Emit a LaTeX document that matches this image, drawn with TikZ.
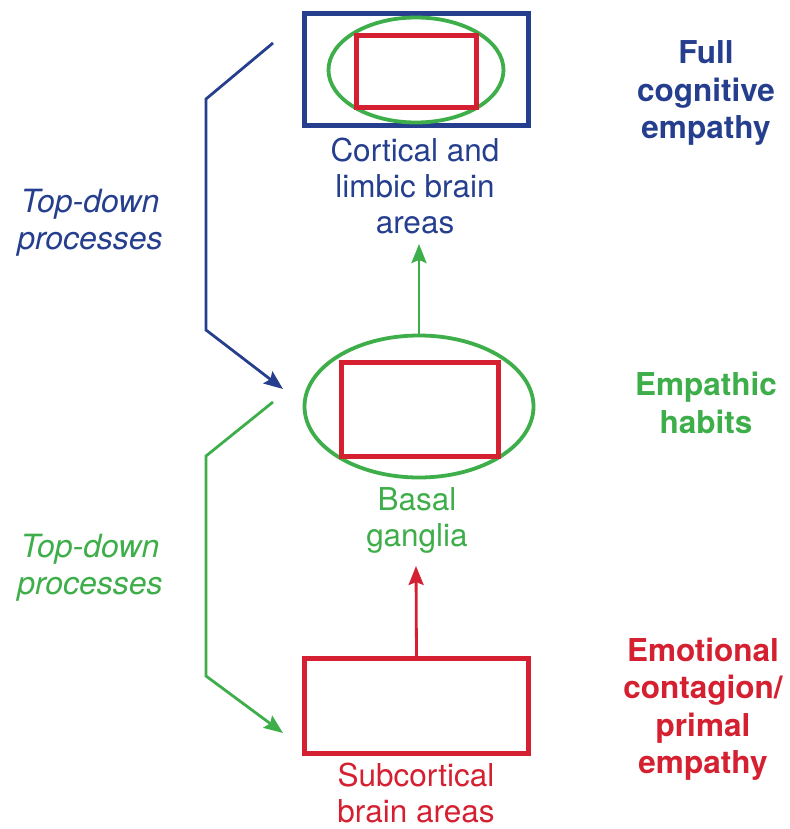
\documentclass[tikz,border=0pt]{standalone}
\usepackage{fontspec}
\setmainfont{TeX Gyre Heros}
\usetikzlibrary{arrows.meta,shapes.geometric}
\definecolor{cblue}{HTML}{253F8E}
\definecolor{cgreen}{HTML}{3DAE49}
\definecolor{cred}{HTML}{D42030}
\begin{document}
\begin{tikzpicture}[x=1pt,y=-1pt,
  box/.style={draw,rectangle,inner sep=0pt,line width=4.2pt},
  oval/.style={draw,ellipse,inner sep=0pt,line width=3.8pt},
  lbl/.style={align=center,font=\fontsize{31.5}{36}\selectfont,inner sep=0pt},
  side/.style={align=center,font=\fontsize{31.5}{37.5}\selectfont\bfseries,inner sep=0pt},
  tdp/.style={align=center,font=\fontsize{32}{37}\selectfont\itshape,inner sep=0pt},
  conn/.style={line width=2.8pt,-{Stealth[length=19pt,width=15pt,inset=3pt]}}]
\useasboundingbox (0,0) rectangle (789,829);
% top
\node[box,cblue,minimum width=224pt,minimum height=112pt] (cort) at (416.5,69.5) {};
\node[oval,cgreen,minimum width=175pt,minimum height=105pt] (cortov) at (416,70) {};
\node[box,cred,minimum width=120pt,minimum height=72pt] (cortin) at (416.5,71.5) {};
\node[lbl,cblue] (cortl) at (415,186) {Cortical and\\limbic brain\\areas};
% middle
\node[oval,cgreen,minimum width=229pt,minimum height=142pt] (bg) at (419,406.5) {};
\node[box,cred,minimum width=157pt,minimum height=94pt] (bgin) at (420,409.5) {};
\node[lbl,cgreen] (bgl) at (417,520) {Basal\\ganglia};
% bottom
\node[box,cred,minimum width=224pt,minimum height=95pt] (sub) at (416.5,706) {};
\node[lbl,cred] (subl) at (416,793) {Subcortical\\brain areas};
% up arrows
\coordinate (gtip) at (419,244);
\coordinate (rtip) at (416,566);
\draw[conn,cgreen] (bg.north) -- (gtip);
\draw[conn,cred] (sub.north) -- (rtip);
% top-down arrows
\coordinate (b0) at (273,43);
\coordinate (b1) at (206,99);
\coordinate (b2) at (206,330);
\coordinate (b3) at (283,389);
\draw[conn,cblue,line join=miter] (b0) -- (b1) -- (b2) -- (b3);
\coordinate (g0) at (273,402);
\coordinate (g1) at (206,456);
\coordinate (g2) at (206,676);
\coordinate (g3) at (283,733);
\draw[conn,cgreen,line join=miter] (g0) -- (g1) -- (g2) -- (g3);
\node[tdp,cblue] (tdb) at (90,223) {Top-down\\processes};
\node[tdp,cgreen] (tdg) at (90,568) {Top-down\\processes};
% right labels
\node[side,cblue] (full) at (706,93) {Full\\cognitive\\empathy};
\node[side,cgreen] (hab) at (706,403) {Empathic\\habits};
\node[side,cred] (emo) at (703,709) {Emotional\\contagion/\\primal\\empathy};
\end{tikzpicture}
\end{document}
